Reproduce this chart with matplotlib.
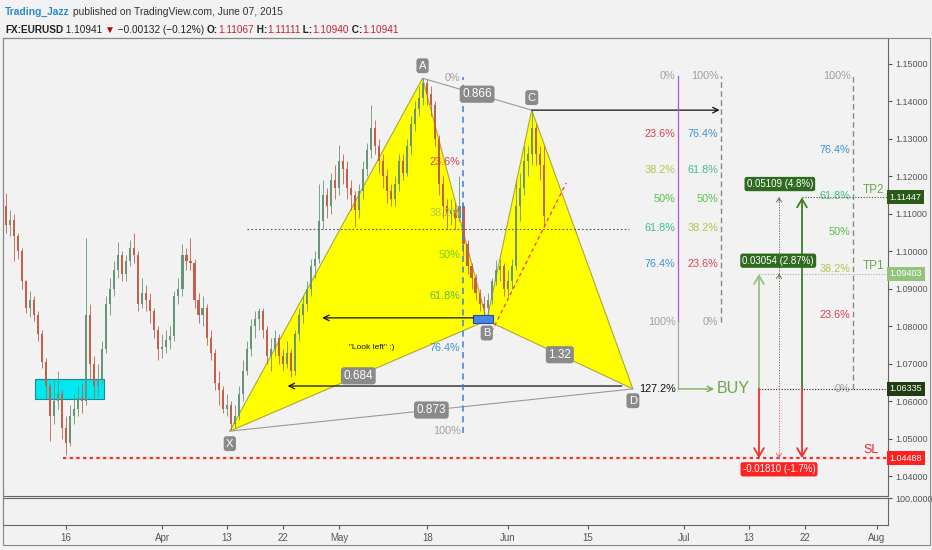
import matplotlib
matplotlib.use("Agg")
import matplotlib.pyplot as plt
from matplotlib.patches import Rectangle, Polygon
from matplotlib.transforms import offset_copy

plt.rcParams['font.family'] = ['Liberation Sans', 'DejaVu Sans']

# ---- price data: half-day candles, trading day index (Mar 16 2015 = 0) ----
start_day = -7.5
step = 0.5
first_open = 1.1120
closes = [
    1.1070, 1.1085, 1.1040, 1.1000, 1.0920, 1.0850, 1.0870, 1.0830, 1.0780, 1.0705,
    1.0640, 1.0560, 1.0600, 1.0620, 1.0530, 1.0490, 1.0560, 1.0580, 1.0610, 1.0600,
    1.0830, 1.0700, 1.0640, 1.0660, 1.0740, 1.0860, 1.0900, 1.0950, 1.0990, 1.0940,
    1.0975, 1.1010, 1.0990, 1.0860, 1.0890, 1.0870, 1.0840, 1.0790, 1.0740, 1.0745,
    1.0765, 1.0775, 1.0880, 1.0900, 1.0990, 1.0975, 1.0970, 1.0870, 1.0830, 1.0850,
    1.0770, 1.0730, 1.0650, 1.0630, 1.0580, 1.0590, 1.0540, 1.0560, 1.0620, 1.0680,
    1.0740, 1.0800, 1.0820, 1.0840, 1.0790, 1.0720, 1.0740, 1.0770, 1.0720, 1.0700,
    1.0730, 1.0680, 1.0780, 1.0830, 1.0860, 1.0900, 1.0960, 1.0980, 1.1080, 1.1150,
    1.1120, 1.1190, 1.1170, 1.1240, 1.1220, 1.1170, 1.1150, 1.1110, 1.1160, 1.1220,
    1.1270, 1.1330, 1.1280, 1.1240, 1.1200, 1.1160, 1.1140, 1.1180, 1.1240, 1.1210,
    1.1280, 1.1340, 1.1380, 1.1410, 1.1450, 1.1420, 1.1390, 1.1300, 1.1180, 1.1120,
    1.1100, 1.1110, 1.1090, 1.1120, 1.1020, 1.0960, 1.0930, 1.0890, 1.0860, 1.0850,
    1.0870, 1.0920, 1.0950, 1.0960, 1.0900, 1.0920, 1.0960, 1.1120, 1.1170, 1.1240,
    1.1260, 1.1330, 1.1260, 1.1230, 1.1094,
]
highs = [
    1.1156, 1.1110, 1.1100, 1.1050, 1.1010, 1.0925, 1.0895, 1.0880, 1.0840, 1.0790,
    1.0715, 1.0650, 1.0660, 1.0680, 1.0630, 1.0560, 1.0590, 1.0620, 1.0640, 1.0650,
    1.1036, 1.0860, 1.0720, 1.0700, 1.0760, 1.0880, 1.0930, 1.0975, 1.1025, 1.1000,
    1.0990, 1.1030, 1.1050, 1.1000, 1.0930, 1.0910, 1.0890, 1.0850, 1.0800, 1.0780,
    1.0790, 1.0800, 1.0895, 1.0930, 1.1020, 1.1010, 1.1036, 1.0980, 1.0890, 1.0880,
    1.0860, 1.0790, 1.0740, 1.0680, 1.0640, 1.0620, 1.0600, 1.0590, 1.0640, 1.0710,
    1.0760, 1.0820, 1.0840, 1.0850, 1.0850, 1.0800, 1.0770, 1.0790, 1.0780, 1.0740,
    1.0760, 1.0740, 1.0790, 1.0850, 1.0880, 1.0920, 1.0980, 1.1000, 1.1180, 1.1190,
    1.1170, 1.1210, 1.1230, 1.1284, 1.1260, 1.1240, 1.1190, 1.1160, 1.1180, 1.1240,
    1.1290, 1.1390, 1.1350, 1.1300, 1.1260, 1.1220, 1.1180, 1.1200, 1.1260, 1.1260,
    1.1300, 1.1360, 1.1400, 1.1440, 1.1462, 1.1460, 1.1440, 1.1400, 1.1310, 1.1200,
    1.1140, 1.1140, 1.1130, 1.1200, 1.1130, 1.1030, 1.0970, 1.0940, 1.0900, 1.0880,
    1.0890, 1.0930, 1.0977, 1.0980, 1.0970, 1.0950, 1.0980, 1.1190, 1.1210, 1.1280,
    1.1280, 1.1377, 1.1340, 1.1280, 1.1280,
]
lows = [
    1.1050, 1.1040, 1.0975, 1.0980, 1.0900, 1.0835, 1.0825, 1.0815, 1.0760, 1.0690,
    1.0610, 1.0495, 1.0540, 1.0580, 1.0500, 1.0458, 1.0480, 1.0540, 1.0560, 1.0570,
    1.0590, 1.0660, 1.0610, 1.0615, 1.0650, 1.0730, 1.0830, 1.0880, 1.0930, 1.0920,
    1.0920, 1.0960, 1.0970, 1.0840, 1.0850, 1.0840, 1.0810, 1.0770, 1.0710, 1.0715,
    1.0730, 1.0740, 1.0760, 1.0860, 1.0880, 1.0950, 1.0950, 1.0850, 1.0810, 1.0800,
    1.0750, 1.0710, 1.0630, 1.0590, 1.0570, 1.0560, 1.0524, 1.0530, 1.0550, 1.0600,
    1.0670, 1.0720, 1.0770, 1.0790, 1.0770, 1.0700, 1.0680, 1.0720, 1.0700, 1.0680,
    1.0690, 1.0666, 1.0670, 1.0760, 1.0810, 1.0840, 1.0880, 1.0930, 1.0970, 1.1060,
    1.1090, 1.1100, 1.1140, 1.1150, 1.1180, 1.1140, 1.1110, 1.1066, 1.1090, 1.1140,
    1.1200, 1.1250, 1.1260, 1.1210, 1.1170, 1.1130, 1.1120, 1.1120, 1.1160, 1.1190,
    1.1200, 1.1260, 1.1320, 1.1360, 1.1390, 1.1390, 1.1360, 1.1280, 1.1150, 1.1090,
    1.1060, 1.1070, 1.1060, 1.1080, 1.0990, 1.0940, 1.0900, 1.0870, 1.0840, 1.0826,
    1.0830, 1.0860, 1.0910, 1.0920, 1.0880, 1.0880, 1.0900, 1.0950, 1.1080, 1.1150,
    1.1200, 1.1230, 1.1230, 1.1190, 1.1065,
]

# ---- XABCD pattern ----
pattern_names = ['X', 'A', 'B', 'C', 'D']
pattern_day = [20.4, 44.4, 52.4, 58.0, 70.6]
pattern_price = [1.0521, 1.1462, 1.0816, 1.1377, 1.06335]
ratio_text = {'XB': '0.684', 'AC': '0.866', 'BD': '1.32', 'XD': '0.873'}

# fib levels
fib_levels = [0.0, 0.236, 0.382, 0.5, 0.618, 0.764, 1.0]
fib_names = ['0%', '23.6%', '38.2%', '50%', '61.8%', '76.4%', '100%']
fib_colors = ['#a0a0a0', '#d9434e', '#b4c64a', '#52c24e', '#3fbf8f', '#3c93d4', '#a0a0a0']
ab_top, ab_bottom = 1.1468, 1.0812

# trade
entry = 1.06335
tp1 = 1.09403
tp2 = 1.11447
sl = 1.04488
tp1_text = '0.03054 (2.87%)'
tp2_text = '0.05109 (4.8%)'
sl_text = '-0.01810 (-1.7%)'

# other drawings
demand_box = (-3.86, 4.73, 1.0607, 1.0660)
b_box = (50.7, 53.2, 1.0809, 1.0831)
look_left_b = (50.7, 31.9, 1.0823)
look_left_d = (69.2, 27.6, 1.06413)
c_arrow = (58.0, 81.4, 1.1377)
dotted_level = (22.5, 70.1, 1.1060)
trend_line = ([53.0, 62.3], [1.0786, 1.1183])

xtick_days = [0, 12, 20, 27, 34, 45, 55, 65, 77, 85, 92, 101]
xtick_labels = ['16', 'Apr', '13', '22', 'May', '18', 'Jun', '15', 'Jul', '13', '22', 'Aug']
price_ticks = [1.04, 1.05, 1.06, 1.07, 1.08, 1.09, 1.10, 1.11, 1.12, 1.13, 1.14, 1.15]

BG = '#f2f2f2'
UP = '#6a9479'
DOWN = '#c4604a'

W, H = 932, 550
fig = plt.figure(figsize=(W / 100, H / 100), dpi=100)
fig.patch.set_facecolor(BG)


def fx(px):
    return px / W


def fy(py):
    return 1 - py / H


ax = fig.add_axes([fx(3), fy(496), fx(888) - fx(3), fy(38) - fy(496)])
ax.set_facecolor(BG)
ax.set_xlim(-7.85, 102.37)
ax.set_ylim(1.0348, 1.156933)
for s in ax.spines.values():
    s.set_color('#666666')
    s.set_linewidth(0.8)
ax.set_xticks([])
ax.yaxis.tick_right()
ax.set_yticks(price_ticks)
ax.set_yticklabels([f'{v:.5f}' for v in price_ticks])
ax.tick_params(axis='y', length=3, pad=2, labelsize=6.5, colors='#555555')

lower = fig.add_axes([fx(3), fy(525), fx(888) - fx(3), fy(498) - fy(525)])
lower.set_facecolor(BG)
lower.set_xlim(ax.get_xlim())
lower.set_ylim(0, 1)
for s in lower.spines.values():
    s.set_color('#666666')
    s.set_linewidth(0.8)
lower.yaxis.tick_right()
lower.set_yticks([1.0])
lower.set_yticklabels(['100.0000'])
lower.tick_params(axis='y', length=3, pad=2, labelsize=6.5, colors='#555555')
lower.set_xticks(xtick_days)
lower.set_xticklabels(xtick_labels)
lower.tick_params(axis='x', length=3, pad=3, labelsize=7, colors='#555555')

fig.patches.append(Rectangle((fx(3), fy(545)), fx(930) - fx(3), fy(38) - fy(545),
                             transform=fig.transFigure, fill=False, ec='#888888', lw=0.8))

# ---- pattern triangles ----
pts = list(zip(pattern_day, pattern_price))
X, A, B, C, D = pts
ax.add_patch(Polygon([X, A, B], closed=True, fc='#ffff00', ec='#a9a93a', lw=0.8, zorder=1))
ax.add_patch(Polygon([B, C, D], closed=True, fc='#ffff00', ec='#a9a93a', lw=0.8, zorder=1))
ax.plot([A[0], C[0]], [A[1], C[1]], color='#9a9a9a', lw=0.8, zorder=2)
ax.plot([X[0], D[0]], [X[1], D[1]], color='#9a9a9a', lw=0.8, zorder=2)

# demand zone sits under the candles
x0, x1, y0, y1 = demand_box
ax.add_patch(Rectangle((x0, y0), x1 - x0, y1 - y0, fc='#00e8f0', ec='#1a8a90', lw=0.8, zorder=2))

# ---- candles ----
prev = first_open
for i, (c, h, l) in enumerate(zip(closes, highs, lows)):
    d = start_day + i * step
    col = UP if c >= prev else DOWN
    ax.plot([d, d], [l, h], color=col, lw=0.6, zorder=3, solid_capstyle='butt')
    lo, hi = min(prev, c), max(prev, c)
    ax.add_patch(Rectangle((d - 0.13, lo), 0.26, max(hi - lo, 0.0002), fc=col, ec='none', zorder=3))
    prev = c

# ---- boxes and lines ----
x0, x1, y0, y1 = b_box
ax.add_patch(Rectangle((x0, y0), x1 - x0, y1 - y0, fc='#4a86e8', ec='#1c4fa0', lw=0.8, zorder=5))

ax.plot([dotted_level[0], dotted_level[1]], [dotted_level[2]] * 2, color='#555555',
        lw=0.8, ls=(0, (1.5, 2)), zorder=4)
ax.plot(trend_line[0], trend_line[1], color='#ff3030', lw=0.9, ls=(0, (3, 2.5)), zorder=4)

arrow_black = dict(arrowstyle='->', color='#111111', lw=0.9, shrinkA=0, shrinkB=0)
for a0, a1, lvl in [look_left_b, look_left_d, c_arrow]:
    ax.annotate('', xy=(a1, lvl), xytext=(a0, lvl), arrowprops=arrow_black, zorder=5)

ax.text(38.1, 1.0745, '"Look left" :)', fontsize=6, color='#111111', ha='center', va='center', zorder=6)

# XA fib on blue dashed line
fib_x = 49.44
ax.plot([fib_x, fib_x], [X[1] - 0.0004, A[1] + 0.0004], color='#3d7fe0', lw=1.1,
        ls=(0, (4, 3)), zorder=5)
xa_colors = ['#a0a0a0', '#d9434e', '#b4c64a', '#66cc33', '#55bb55', '#3c93d4', '#a0a0a0']
for lv, nm, cl in zip(fib_levels, fib_names, xa_colors):
    p = A[1] - lv * (A[1] - X[1])
    ax.text(fib_x - 0.3, p, nm, fontsize=7.8, color=cl, ha='right', va='center', zorder=6)


def label_box(x, y, s, dy=0, fc='#8a8a8a', size=8, color='white'):
    tr = offset_copy(ax.transData, fig=fig, x=0, y=dy, units='points')
    ax.text(x, y, s, transform=tr, fontsize=size, color=color, ha='center', va='center', zorder=8,
            bbox=dict(boxstyle='round,pad=0.22,rounding_size=0.25', fc=fc, ec='none'))


offs = {'X': -9, 'A': 9, 'B': -9, 'C': 9, 'D': -8.5}
for nm, (dd, pp) in zip(pattern_names, pts):
    label_box(dd, pp, nm, dy=offs[nm], size=8)

pmap = dict(zip(pattern_names, pts))
for key, s in ratio_text.items():
    p0, p1 = pmap[key[0]], pmap[key[1]]
    label_box((p0[0] + p1[0]) / 2, (p0[1] + p1[1]) / 2, s, size=8.5)

# AB extension fib (purple line)
f2x = 76.2
ax.plot([f2x, f2x], [ab_bottom, ab_top], color='#b455d8', lw=0.9, zorder=5)
ext_price = ab_top - 1.272 * (ab_top - ab_bottom)
ax.plot([f2x, f2x], [ext_price, ab_bottom], color='#aaaaaa', lw=0.9, zorder=5)
for lv, nm, cl in zip(fib_levels, fib_names, fib_colors):
    p = ab_top - lv * (ab_top - ab_bottom)
    ax.text(f2x - 0.3, p, nm, fontsize=7.8, color=cl, ha='right', va='center', zorder=6)
ax.text(f2x - 0.3, ext_price, '127.2%', fontsize=7.8, color='#111111', ha='right', va='center', zorder=6)

# reversed fib (gray dashed)
f3x = 81.57
ax.plot([f3x, f3x], [ab_bottom, ab_top], color='#888888', lw=1.0, ls=(0, (4, 2.5)), zorder=5)
for lv, nm, cl in zip(fib_levels, fib_names[::-1], fib_colors[::-1]):
    p = ab_top - lv * (ab_top - ab_bottom)
    ax.text(f3x - 0.3, p, nm, fontsize=7.8, color=cl, ha='right', va='center', zorder=6)

# target fib from entry (gray dashed)
f4x = 98.0
ax.plot([f4x, f4x], [entry, ab_top], color='#888888', lw=1.0, ls=(0, (4, 2.5)), zorder=5)
for lv, nm, cl in zip(fib_levels, fib_names, fib_colors):
    p = entry + lv * (ab_top - entry)
    ax.text(f4x - 0.3, p, nm, fontsize=7.8, color=cl, ha='right', va='center', zorder=6)

# ---- trade ----
buy_x0, buy_x1 = 76.3, 80.7
ax.annotate('', xy=(buy_x1, entry), xytext=(buy_x0, entry),
            arrowprops=dict(arrowstyle='->', color='#6aa84f', lw=0.9, shrinkA=0, shrinkB=0), zorder=6)
ax.text(81.1, entry, 'BUY', fontsize=11.5, color='#6aa84f', ha='left', va='center', zorder=6)

t1x, t2x, tmx = 86.3, 91.66, 88.8
ax.plot([t1x, 102.37], [entry, entry], color='#222222', lw=0.8, ls=(0, (1, 1.5)), zorder=6)
ax.plot([t2x, 102.37], [tp2, tp2], color='#3d6b2a', lw=0.8, ls=(0, (1, 1.5)), zorder=6)
ax.plot([t1x, 102.37], [tp1, tp1], color='#9ab88a', lw=0.8, ls=(0, (1, 1.5)), zorder=6)
ax.plot([-0.37, 102.37], [sl, sl], color='#ff2a2a', lw=1.6, ls=(0, (1.5, 1.5)), zorder=6)

up_light = dict(arrowstyle='->,head_length=0.6,head_width=0.35', color='#93c47d', lw=1.3,
                shrinkA=0, shrinkB=0)
up_dark = dict(arrowstyle='->,head_length=0.6,head_width=0.35', color='#3f7d26', lw=1.3,
               shrinkA=0, shrinkB=0)
down_red = dict(arrowstyle='->,head_length=0.6,head_width=0.35', color='#f03030', lw=1.3,
                shrinkA=0, shrinkB=0)
ax.annotate('', xy=(t1x, tp1), xytext=(t1x, entry), arrowprops=up_light, zorder=7)
ax.annotate('', xy=(t2x, tp2), xytext=(t2x, entry), arrowprops=up_dark, zorder=7)
ax.annotate('', xy=(t1x, sl), xytext=(t1x, entry), arrowprops=down_red, zorder=7)
ax.annotate('', xy=(t2x, sl), xytext=(t2x, entry), arrowprops=down_red, zorder=7)
ax.plot([tmx, tmx], [entry, tp2], color='#556b4a', lw=0.7, ls=(0, (1.2, 1.5)), zorder=6)
ax.plot([tmx, tmx], [sl, entry], color='#f06060', lw=0.7, ls=(0, (1.2, 1.5)), zorder=6)
for yy, cl in [(tp2, '#556b4a'), (tp1, '#556b4a'), (sl, '#f06060')]:
    ax.annotate('', xy=(tmx, yy), xytext=(tmx, yy - 0.0012 if yy > entry else yy + 0.0012),
                arrowprops=dict(arrowstyle='->,head_length=0.3,head_width=0.2', color=cl, lw=0.6,
                                shrinkA=0, shrinkB=0), zorder=6)

label_box(tmx + 0.1, tp2, tp2_text, dy=9.5, fc='#2f6b1f', size=7)
label_box(tmx - 0.1, tp1, tp1_text, dy=9.5, fc='#2f6b1f', size=7)
label_box(tmx, sl, sl_text, dy=-8, fc='#ff2222', size=7)

ax.text(99.2, tp2 + 0.0020, 'TP2', fontsize=8.5, color='#6aa84f', ha='left', va='center', zorder=6)
ax.text(99.2, tp1 + 0.0020, 'TP1', fontsize=8.5, color='#6aa84f', ha='left', va='center', zorder=6)
ax.text(99.3, sl + 0.0023, 'SL', fontsize=9, color='#ee2222', ha='left', va='center', zorder=6)

# price axis markers
ytr = ax.get_yaxis_transform()
for val, fc in [(tp2, '#2a5a17'), (tp1, '#93c47d'), (entry, '#1f3d10'), (sl, '#ff1f1f')]:
    ax.text(1.0015, val, f'{val:.5f}', transform=ytr, fontsize=6.5, color='white', ha='left',
            va='center', clip_on=False, zorder=9,
            bbox=dict(boxstyle='square,pad=0.3', fc=fc, ec='none'))

# ---- header ----
renderer = fig.canvas.get_renderer()


def text_run(x_px, y_px, pieces, size):
    x = x_px
    for s, color, weight in pieces:
        t = fig.text(fx(x), fy(y_px), s, color=color, fontsize=size, fontweight=weight,
                     ha='left', va='center')
        x += t.get_window_extent(renderer=renderer).width


text_run(5, 12, [('Trading_Jazz', '#2a8dd4', 'bold'),
                 (' published on TradingView.com, June 07, 2015', '#333333', 'normal')], 7.4)
RED = '#c0262f'
text_run(5, 30, [('FX:EURUSD', '#222222', 'bold'), (' 1.10941 ', '#222222', 'normal'),
                 ('▼', '#c00000', 'normal'), (' \u22120.00132 (\u22120.12%) ', '#222222', 'normal'),
                 ('O:', '#222222', 'bold'), ('1.11067', RED, 'normal'),
                 (' H:', '#222222', 'bold'), ('1.11111', RED, 'normal'),
                 (' L:', '#222222', 'bold'), ('1.10940', RED, 'normal'),
                 (' C:', '#222222', 'bold'), ('1.10941', RED, 'normal')], 7.2)

fig.savefig('out.png', dpi=100, facecolor=BG)
